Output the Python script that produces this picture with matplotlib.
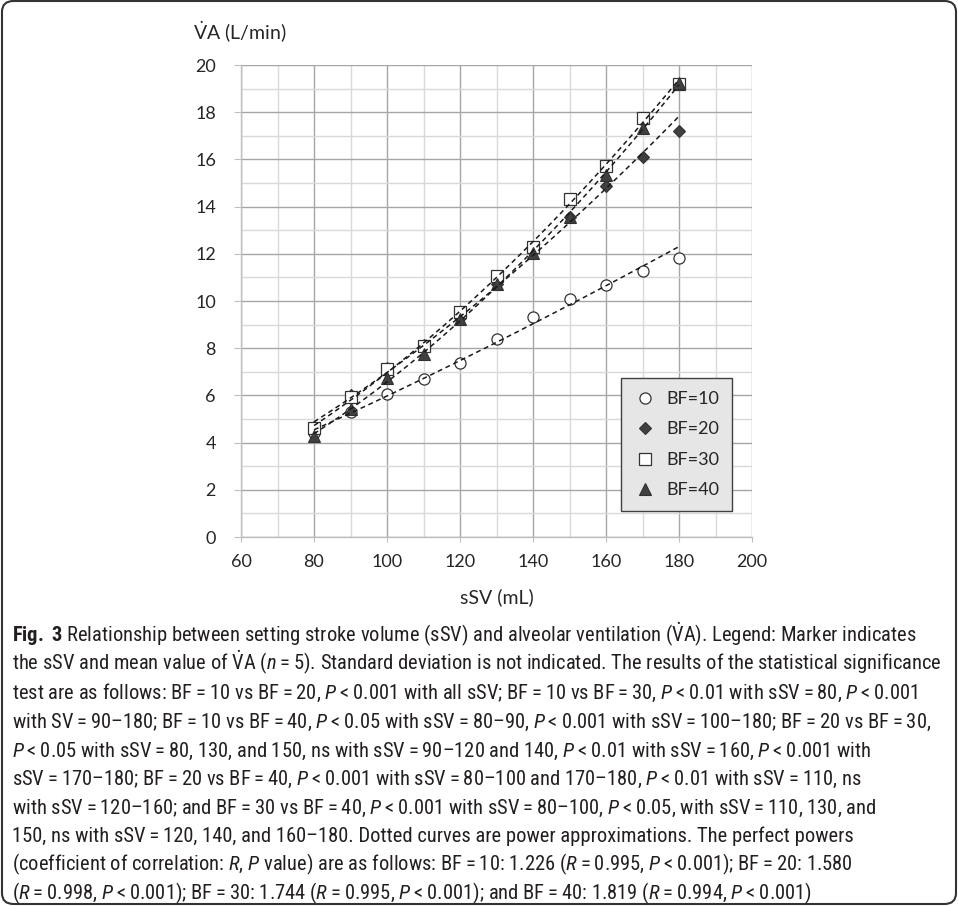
import numpy as np
import matplotlib
matplotlib.use('Agg')
import matplotlib.pyplot as plt
from matplotlib import font_manager as fm
from matplotlib.patches import FancyBboxPatch
from matplotlib.ticker import MultipleLocator

# ---------------- data ----------------
sSV = [80, 90, 100, 110, 120, 130, 140, 150, 160, 170, 180]
va_bf10 = [4.40, 5.29, 6.05, 6.71, 7.38, 8.41, 9.34, 10.08, 10.69, 11.27, 11.84]
va_bf20 = [4.65, 6.00, 7.17, 8.13, 9.30, 10.72, 12.10, 13.55, 14.86, 16.10, 17.22]
va_bf30 = [4.60, 5.95, 7.10, 8.10, 9.53, 11.06, 12.30, 14.32, 15.71, 17.75, 19.18]
va_bf40 = [4.30, 5.43, 6.72, 7.77, 9.25, 10.72, 12.02, 13.55, 15.35, 17.35, 19.22]
series_labels = ['BF=10', 'BF=20', 'BF=30', 'BF=40']
x_ticks = [60, 80, 100, 120, 140, 160, 180, 200]
y_ticks = [0, 2, 4, 6, 8, 10, 12, 14, 16, 18, 20]
x_label = 'sSV (mL)'
y_label = r'$\dot{\mathsf{V}}$A (L/min)'

caption_lines = [
    r"$\mathbf{Fig.\ 3}$ Relationship between setting stroke volume (sSV) and alveolar ventilation ($\dot{\mathrm{V}}$A). Legend: Marker indicates",
    r"the sSV and mean value of $\dot{\mathrm{V}}$A ($\mathit{n}$ = 5). Standard deviation is not indicated. The results of the statistical significance",
    r"test are as follows: BF = 10 vs BF = 20, $\mathit{P}$ < 0.001 with all sSV; BF = 10 vs BF = 30, $\mathit{P}$ < 0.01 with sSV = 80, $\mathit{P}$ < 0.001",
    r"with SV = 90–180; BF = 10 vs BF = 40, $\mathit{P}$ < 0.05 with sSV = 80–90, $\mathit{P}$ < 0.001 with sSV = 100–180; BF = 20 vs BF = 30,",
    r"$\mathit{P}$ < 0.05 with sSV = 80, 130, and 150, ns with sSV = 90–120 and 140, $\mathit{P}$ < 0.01 with sSV = 160, $\mathit{P}$ < 0.001 with",
    r"sSV = 170–180; BF = 20 vs BF = 40, $\mathit{P}$ < 0.001 with sSV = 80–100 and 170–180, $\mathit{P}$ < 0.01 with sSV = 110, ns",
    r"with sSV = 120–160; and BF = 30 vs BF = 40, $\mathit{P}$ < 0.001 with sSV = 80–100, $\mathit{P}$ < 0.05, with sSV = 110, 130, and",
    r"150, ns with sSV = 120, 140, and 160–180. Dotted curves are power approximations. The perfect powers",
    r"(coefficient of correlation: $\mathit{R}$, $\mathit{P}$ value) are as follows: BF = 10: 1.226 ($\mathit{R}$ = 0.995, $\mathit{P}$ < 0.001); BF = 20: 1.580",
    r"($\mathit{R}$ = 0.998, $\mathit{P}$ < 0.001); BF = 30: 1.744 ($\mathit{R}$ = 0.995, $\mathit{P}$ < 0.001); and BF = 40: 1.819 ($\mathit{R}$ = 0.994, $\mathit{P}$ < 0.001)",
]

# ---------------- fonts ----------------
ents = fm.fontManager.ttflist
names = {e.name for e in ents}


def has(name, stretch=None):
    return any(e.name == name and (stretch is None or e.stretch == stretch) for e in ents)


chart_font = 'Lato' if 'Lato' in names else 'DejaVu Sans'
cap_font, cap_stretch = 'Liberation Sans', 'normal'
if has('Liberation Sans Narrow'):
    cap_font, cap_stretch = 'Liberation Sans Narrow', 'normal'
elif has('Roboto Condensed'):
    cap_font, cap_stretch = 'Roboto Condensed', 'normal'
elif has('DejaVu Sans', 'condensed'):
    cap_font, cap_stretch = 'DejaVu Sans', 'condensed'
elif has('Open Sans', 'condensed'):
    cap_font, cap_stretch = 'Open Sans', 'condensed'
elif has('Roboto', 'condensed'):
    cap_font, cap_stretch = 'Roboto', 'condensed'
elif not has('Liberation Sans'):
    cap_font, cap_stretch = 'DejaVu Sans', 'normal'

thin = ' '
try:
    from matplotlib.ft2font import FT2Font
    ft = FT2Font(fm.findfont(fm.FontProperties(family=cap_font, stretch=cap_stretch)))
    if ft.get_char_index(0x2009) != 0:
        thin = '\u2009'
except Exception:
    pass

suffix = '' if cap_stretch == 'normal' else ':stretch=' + cap_stretch
plt.rcParams.update({
    'font.family': chart_font,
    'mathtext.fontset': 'custom',
    'mathtext.rm': cap_font + suffix,
    'mathtext.it': cap_font + ':italic' + suffix,
    'mathtext.bf': cap_font + ':bold' + suffix,
    'mathtext.sf': chart_font,
})

W, H = 958, 906
fig = plt.figure(figsize=(W / 100, H / 100), dpi=100)
fig.patch.set_facecolor('white')

ax = fig.add_axes([241 / W, 1 - 537 / H, (752 - 241) / W, (537 - 65) / H])
ax.set_xlim(60, 200)
ax.set_ylim(0, 20)
ax.set_xticks(x_ticks)
ax.set_yticks(y_ticks)
ax.xaxis.set_minor_locator(MultipleLocator(10))
ax.yaxis.set_minor_locator(MultipleLocator(1))
ax.grid(which='minor', color='#d9d9d9', linewidth=1.0, zorder=0)
ax.grid(which='major', color='#a6a6a6', linewidth=1.0, zorder=0)
ax.set_axisbelow(True)
for s in ['top', 'right']:
    ax.spines[s].set_visible(False)
for s in ['left', 'bottom']:
    ax.spines[s].set_color('#bfbfbf')
    ax.spines[s].set_linewidth(1.0)
ax.tick_params(axis='y', which='major', length=5, color='#bfbfbf', pad=13,
               labelsize=13, labelcolor='#262626')
ax.tick_params(axis='x', which='major', length=3.5, color='#bfbfbf', pad=9,
               labelsize=13, labelcolor='#262626')
ax.tick_params(which='minor', length=0)

styles = [
    dict(marker='o', ms=8, mfc='white', mec='#333333', mew=0.9),
    dict(marker='D', ms=6.5, mfc='#404040', mec='#303030', mew=0.8),
    dict(marker='s', ms=8, mfc='white', mec='#333333', mew=0.9),
    dict(marker='^', ms=9, mfc='#404040', mec='#303030', mew=0.8),
]
series = [va_bf10, va_bf20, va_bf30, va_bf40]
handles = []
x = np.array(sSV, dtype=float)
for vals, st, lab in zip(series, styles, series_labels):
    h, = ax.plot(sSV, vals, linestyle='none', label=lab, zorder=3, **st)
    handles.append(h)
for vals in series:
    b, lna = np.polyfit(np.log(x), np.log(np.array(vals)), 1)
    xx = np.linspace(80, 180, 200)
    ax.plot(xx, np.exp(lna) * xx ** b, color='#1a1a1a', linewidth=1.1,
            linestyle=(0, (3.2, 2.4)), zorder=4)

leg = ax.legend(handles, series_labels, loc='lower right',
                bbox_to_anchor=(732 / W, 1 - 511 / H), bbox_transform=fig.transFigure,
                borderaxespad=0, frameon=True, fancybox=False, framealpha=1,
                facecolor='#e6e6e6', edgecolor='#404040', fontsize=13,
                labelspacing=0.8, handlelength=1.2, handletextpad=0.6, borderpad=0.7)
leg.get_frame().set_linewidth(1.0)
for t in leg.get_texts():
    t.set_color('#262626')

ax.set_xlabel(x_label, fontsize=14, color='#262626', va='center')
ax.xaxis.set_label_coords(0.5, (537 - 597) / (537 - 65))
fig.text(193 / W, 1 - 32 / H, y_label, fontsize=14, color='#262626',
         ha='left', va='center')

# caption
cap_texts = []
base_size = 14
for i, line in enumerate(caption_lines):
    line = line.replace(' = ', thin + '=' + thin).replace(' < ', thin + '<' + thin)
    t = fig.text(12 / W, 1 - (642 + 28.6 * i) / H, line, fontsize=base_size,
                 family=cap_font, stretch=cap_stretch, color='#231f20',
                 ha='left', va='baseline')
    cap_texts.append(t)
renderer = fig.canvas.get_renderer()
widths = [t.get_window_extent(renderer).width for t in cap_texts]
scale = 935 / max(widths)
for t in cap_texts:
    t.set_fontsize(base_size * scale)

frame = FancyBboxPatch((2 / W, 2 / H), 1 - 4 / W, 1 - 3 / H,
                       boxstyle='round,pad=0,rounding_size=0.012',
                       transform=fig.transFigure, fill=False,
                       edgecolor='#333333', linewidth=1.5)
fig.add_artist(frame)

fig.savefig('out.png', dpi=100)
